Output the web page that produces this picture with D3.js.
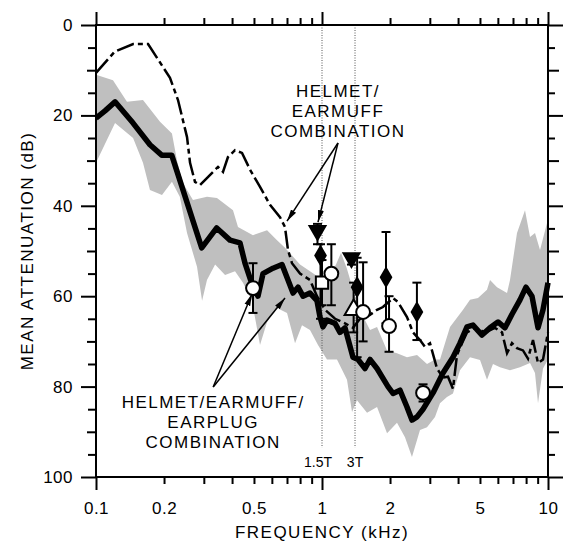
<!DOCTYPE html>
<html>
<head>
<meta charset="utf-8">
<script src="https://cdn.jsdelivr.net/npm/d3@7"></script>
<style>
  body { margin: 0; background: #fff; }
  svg text { font-family: "Liberation Sans", Arial, Helvetica, sans-serif; fill: #000; }
</style>
</head>
<body>
<svg id="chart"></svg>
<script>
// Helmet/earmuff/earplug combination: mean (thick line)
var plugFreq = [0.1, 0.1096, 0.1214, 0.1459, 0.1733, 0.1953, 0.2163, 0.2936, 0.342, 0.3917, 0.4337, 0.4563,
  0.495, 0.5209, 0.5482, 0.6072, 0.6653, 0.7073, 0.7444, 0.7833, 0.824, 0.8849, 0.9503, 0.9798, 1.01, 1.052,
  1.142, 1.201, 1.264, 1.371, 1.443, 1.55, 1.631, 1.752, 1.959, 2.062, 2.214, 2.377, 2.501, 2.633, 2.798,
  3.099, 3.431, 3.798, 4.079, 4.381, 4.657, 5.105, 5.539, 6.009, 6.452, 6.928, 7.517, 7.991, 8.495, 9.032,
  9.504, 10];
var plugMean = [20.6, 19, 17, 21.7, 26.5, 28.8, 28.8, 49.3, 44.9, 47.6, 48.2, 52.7,
  58, 60, 55, 53.8, 53, 56.4, 59.3, 58, 60, 59.3, 61, 64.6, 66.8, 65.3,
  66, 68, 67, 73.5, 74, 76, 74, 76, 80, 81.5, 80.8, 84.5, 87.4, 86.7, 85,
  81.4, 77, 73.5, 70.4, 66.8, 66.4, 68.6, 67, 65.7, 67, 64, 60.8, 58, 60, 67,
  63, 57];

// Range of the helmet/earmuff/earplug data (grey band)
var bandTopFreq = [0.1, 0.1189, 0.1371, 0.1614, 0.192, 0.2168, 0.2282, 0.2426, 0.2686, 0.3098, 0.343, 0.4038,
  0.4249, 0.495, 0.5713, 0.6324, 0.6858, 0.7367, 0.7993, 0.8849, 0.9798, 1.063, 1.153, 1.214, 1.29, 1.4,
  1.503, 1.631, 1.752, 1.94, 2.147, 2.377, 2.633, 2.915, 3.162, 3.327, 3.685, 4.207, 4.517, 4.901, 5.372,
  5.539, 5.949, 6.587, 6.79, 7.292, 7.911, 8.326, 8.76, 9.219, 10];
var bandTop = [11, 12.2, 17, 16.6, 21.4, 24, 30, 35, 38.7, 38, 38.3, 41,
  44.7, 46.5, 45.4, 47.6, 49.3, 51, 53, 54.5, 56, 56, 53, 50.4, 54, 60,
  64, 67.5, 66.8, 72, 72.6, 73.5, 73, 75, 74, 74, 66.8, 63, 60.8, 60.4, 58.6,
  56.4, 58, 59.3, 56.4, 46, 41, 46.9, 46, 49.8, 43];
var bandBottomFreq = [0.1, 0.1214, 0.1459, 0.1614, 0.1733, 0.1959, 0.2168, 0.2349, 0.2528, 0.2799, 0.2947,
  0.3098, 0.3366, 0.3724, 0.4122, 0.4471, 0.4898, 0.5318, 0.5713, 0.6324, 0.7002, 0.7598, 0.8157, 0.8849,
  0.96, 1.052, 1.165, 1.29, 1.358, 1.428, 1.582, 1.752, 1.94, 2.147, 2.329, 2.501, 2.714, 2.915, 3.162,
  3.327, 3.573, 3.798, 4.079, 4.517, 5.003, 5.372, 5.709, 6.132, 6.79, 7.517, 8.326, 8.76, 9.032, 9.504, 10];
var bandBottom = [30.5, 21.7, 25, 30.5, 36.5, 37.6, 34.7, 38, 46, 53.5, 61,
  56.4, 53, 55.3, 54.5, 57, 61, 70.8, 65.7, 62.6, 63.7, 70.4, 66.4, 67.5,
  70.8, 74, 74, 78.5, 85.6, 83, 85.8, 84.5, 90.3, 88, 91.2, 95.6, 89.6, 89, 86.7,
  83.7, 82.3, 81.5, 76.4, 73.5, 74.1, 78.5, 75, 75.7, 76.4, 75.7, 74.8, 77, 83.7, 76, 74];

// Helmet/earmuff combination (dash-dot line)
var muffFreq = [0.1, 0.121, 0.146, 0.17, 0.2125, 0.2306, 0.2528, 0.2607, 0.2742, 0.2885, 0.3466, 0.3647,
  0.3837, 0.4122, 0.4427, 0.4803, 0.5318, 0.5888, 0.6519, 0.6858, 0.7073, 0.7367, 0.7993, 0.8849, 0.9503,
  1.031, 1.142, 1.264, 1.371, 1.473, 1.582, 1.752, 1.861, 2.062, 2.169, 2.377, 2.527, 2.714, 2.856, 3.005,
  3.227, 3.431, 3.61, 3.798, 3.956, 4.165, 4.381, 4.753, 5.264, 5.83, 6.259, 6.587, 6.928, 7.292, 7.751,
  8.156, 8.583, 9.032, 9.504, 10];
var muffMean = [10.6, 5.9, 4.2, 4.2, 11.7, 16.6, 24.8, 30.5, 34.7, 35.4, 31.4, 32.5,
  29.2, 27.7, 28.3, 32, 35.8, 39.8, 42.5, 44.7, 49.8, 52.7, 55, 56.4, 60,
  63, 65, 66, 67, 65, 64.6, 63, 62.4, 60.4, 61.3, 64.6, 68, 69.7, 71.2, 70.4,
  76, 78, 77.8, 80.5, 73, 70.4, 68, 67, 68, 67, 68, 72.6, 70.4, 71.5, 72,
  73.8, 69.7, 74.8, 74, 68];

// Individual device data points with error bars
var pointFreq  = [0.495, 0.955, 0.985, 1.0, 1.10, 1.35, 1.38, 1.43, 1.52, 1.92, 1.98, 2.63, 2.80];
var pointMean  = [58.2, 45.5, 51, 57, 55, 51.5, 63, 58, 63.5, 55.8, 66.6, 63.5, 81.4];
var pointLow   = [52.7, 44, 48.5, 52, 48.5, 51, 57, 51.5, 52.5, 45.8, 60, 57, 79.5];
var pointHigh  = [63.7, 48.5, 65, 62, 62, 53, 68, 73.5, 70, 66, 72.3, 69.7, 83.3];
var pointShape = ["circle", "down", "diamond", "square", "circle", "down", "up", "diamond", "circle",
  "diamond", "circle", "diamond", "circle"];

// Test frequencies marked with dotted lines
var markFreq = [1, 1.4];
var markLabel = ["1.5T", "3T"];

// Axis ticks
var xLabelTicks = [0.1, 0.2, 0.5, 1, 2, 5, 10];
var xMajorTicks = [0.1, 1, 10];
var xMinorTicks = [0.2, 0.3, 0.4, 0.5, 0.6, 0.7, 0.8, 0.9, 2, 3, 4, 5, 6, 7, 8, 9];
var yLabelTicks = [0, 20, 40, 60, 80, 100];
var yTenTicks = [10, 30, 50, 70, 90];
var yFiveTicks = [5, 15, 25, 35, 45, 55, 65, 75, 85, 95];

var width = 564, height = 546;
var svg = d3.select("#chart").attr("width", width).attr("height", height);

var x = d3.scaleLog().domain([0.1, 10]).range([96, 548]);
var y = d3.scaleLinear().domain([0, 100]).range([25, 477]);

var line = d3.line()
    .x(function(d) { return x(d[0]); })
    .y(function(d) { return y(d[1]); });

// grey band
var topPts = d3.zip(bandTopFreq, bandTop);
var botPts = d3.zip(bandBottomFreq, bandBottom).reverse();
svg.append("path")
    .attr("d", line(topPts.concat(botPts)) + "Z")
    .attr("fill", "#bfbfbf")
    .attr("stroke", "none");

// dotted lines
svg.selectAll(".mark")
    .data(markFreq)
  .enter().append("line")
    .attr("x1", function(d) { return x(d); })
    .attr("x2", function(d) { return x(d); })
    .attr("y1", y(0))
    .attr("y2", y(93.5))
    .attr("stroke", "#555")
    .attr("stroke-width", 1)
    .attr("stroke-dasharray", "1,1.5");

svg.selectAll(".markLabel")
    .data(markFreq)
  .enter().append("text")
    .attr("x", function(d, i) { return x(d) + (i == 0 ? -4 : 0); })
    .attr("y", y(97.8))
    .attr("text-anchor", "middle")
    .attr("font-size", 14)
    .text(function(d, i) { return markLabel[i]; });

// dash-dot line
svg.append("path")
    .attr("d", line(d3.zip(muffFreq, muffMean)))
    .attr("fill", "none")
    .attr("stroke", "#000")
    .attr("stroke-width", 2.5)
    .attr("stroke-dasharray", "18,4,5,4");

// thick line
svg.append("path")
    .attr("d", line(d3.zip(plugFreq, plugMean)))
    .attr("fill", "none")
    .attr("stroke", "#000")
    .attr("stroke-width", 5.5)
    .attr("stroke-linejoin", "round");

// error bars
var bars = svg.selectAll(".bar")
    .data(d3.range(pointFreq.length))
  .enter().append("g");
bars.append("line")
    .attr("x1", function(i) { return x(pointFreq[i]); })
    .attr("x2", function(i) { return x(pointFreq[i]); })
    .attr("y1", function(i) { return y(pointLow[i]); })
    .attr("y2", function(i) { return y(pointHigh[i]); })
    .attr("stroke", "#000").attr("stroke-width", 2);
[pointLow, pointHigh].forEach(function(arr) {
  bars.append("line")
      .attr("x1", function(i) { return x(pointFreq[i]) - 4.5; })
      .attr("x2", function(i) { return x(pointFreq[i]) + 4.5; })
      .attr("y1", function(i) { return y(arr[i]); })
      .attr("y2", function(i) { return y(arr[i]); })
      .attr("stroke", "#000").attr("stroke-width", 2);
});

// markers
var symbolType = { circle: d3.symbolCircle, square: d3.symbolSquare, diamond: d3.symbolDiamond,
  up: d3.symbolTriangle, down: d3.symbolTriangle };
var symbolSize = { circle: 150, square: 150, diamond: 95, up: 140, down: 110 };
svg.selectAll(".pt")
    .data(d3.range(pointFreq.length))
  .enter().append("path")
    .attr("d", function(i) { return d3.symbol().type(symbolType[pointShape[i]]).size(symbolSize[pointShape[i]])(); })
    .attr("transform", function(i) {
      return "translate(" + x(pointFreq[i]) + "," + y(pointMean[i]) + ")" + (pointShape[i] == "down" ? " rotate(180)" : "");
    })
    .attr("fill", function(i) { return (pointShape[i] == "diamond" || pointShape[i] == "down") ? "#000" : "#fff"; })
    .attr("stroke", "#000")
    .attr("stroke-width", 2);

// frame
svg.append("rect")
    .attr("x", x(0.1)).attr("y", y(0))
    .attr("width", x(10) - x(0.1)).attr("height", y(100) - y(0))
    .attr("fill", "none").attr("stroke", "#000").attr("stroke-width", 2);

// ticks
function ticks(axis, tx, ty) {
  var g = svg.append("g").attr("transform", "translate(" + tx + "," + ty + ")").call(axis);
  g.select(".domain").remove();
  g.selectAll("line").attr("stroke-width", 2);
  return g;
}
ticks(d3.axisBottom(x).tickValues(xMajorTicks).tickSize(13).tickFormat(""), 0, y(100));
ticks(d3.axisBottom(x).tickValues(xMinorTicks).tickSize(7).tickFormat(""), 0, y(100));
ticks(d3.axisTop(x).tickValues(xMajorTicks).tickSize(13).tickFormat(""), 0, y(0));
ticks(d3.axisTop(x).tickValues(xMinorTicks).tickSize(7).tickFormat(""), 0, y(0));
ticks(d3.axisLeft(y).tickValues(yLabelTicks).tickSize(15).tickFormat(""), x(0.1), 0);
ticks(d3.axisLeft(y).tickValues(yTenTicks).tickSize(9).tickFormat(""), x(0.1), 0);
ticks(d3.axisLeft(y).tickValues(yFiveTicks).tickSize(8).tickFormat(""), x(0.1), 0);
ticks(d3.axisRight(y).tickValues(yLabelTicks).tickSize(15).tickFormat(""), x(10), 0);
ticks(d3.axisRight(y).tickValues(yTenTicks).tickSize(11).tickFormat(""), x(10), 0);
ticks(d3.axisRight(y).tickValues(yFiveTicks).tickSize(7).tickFormat(""), x(10), 0);

// tick labels
var xl = ticks(d3.axisBottom(x).tickValues(xLabelTicks).tickSize(0).tickPadding(25).tickFormat(d3.format("~g")), 0, y(100));
xl.selectAll("text").attr("font-size", 17).attr("font-family", null).attr("fill", null).style("letter-spacing", "0.5px");
var yl = ticks(d3.axisLeft(y).tickValues(yLabelTicks).tickSize(0).tickPadding(23), x(0.1), 0);
yl.selectAll("text").attr("font-size", 17).attr("font-family", null).attr("fill", null).style("letter-spacing", "0.5px");

// axis titles
svg.append("text")
    .attr("x", x(1)).attr("y", 538)
    .attr("text-anchor", "middle")
    .attr("font-size", 17)
    .style("letter-spacing", "1.5px")
    .text("FREQUENCY (kHz)");
svg.append("text")
    .attr("transform", "translate(33," + y(50) + ") rotate(-90)")
    .attr("text-anchor", "middle")
    .attr("font-size", 17)
    .style("letter-spacing", "1.5px")
    .text("MEAN ATTENUATION (dB)");

// annotations
var defs = svg.append("defs");
defs.append("marker")
    .attr("id", "arrow")
    .attr("viewBox", "0 0 12 10")
    .attr("refX", 12).attr("refY", 5)
    .attr("markerWidth", 12).attr("markerHeight", 10)
    .attr("markerUnits", "userSpaceOnUse")
    .attr("orient", "auto")
  .append("path")
    .attr("d", "M0,2L12,5L0,8Z")
    .attr("fill", "#000");

var notes = [
  { lines: ["HELMET/", "EARMUFF", "COMBINATION"], f: 1.177, db: 15.9, from: [1.177, 26.1],
    to: [[0.700, 43.4], [0.960, 43.6]] },
  { lines: ["HELMET/EARMUFF/", "EARPLUG", "COMBINATION"], f: 0.330, db: 84.7, from: [0.330, 80.1],
    to: [[0.490, 59.5], [0.686, 60.4]] }
];
notes.forEach(function(n) {
  var t = svg.append("text")
      .attr("text-anchor", "middle")
      .attr("font-size", 17)
      .style("letter-spacing", "1.5px");
  n.lines.forEach(function(s, i) {
    t.append("tspan").attr("x", x(n.f)).attr("y", y(n.db) + i * 20).text(s);
  });
  n.to.forEach(function(p) {
    svg.append("line")
        .attr("x1", x(n.from[0])).attr("y1", y(n.from[1]))
        .attr("x2", x(p[0])).attr("y2", y(p[1]))
        .attr("stroke", "#000").attr("stroke-width", 1.5)
        .attr("marker-end", "url(#arrow)");
  });
});
</script>
</body>
</html>
